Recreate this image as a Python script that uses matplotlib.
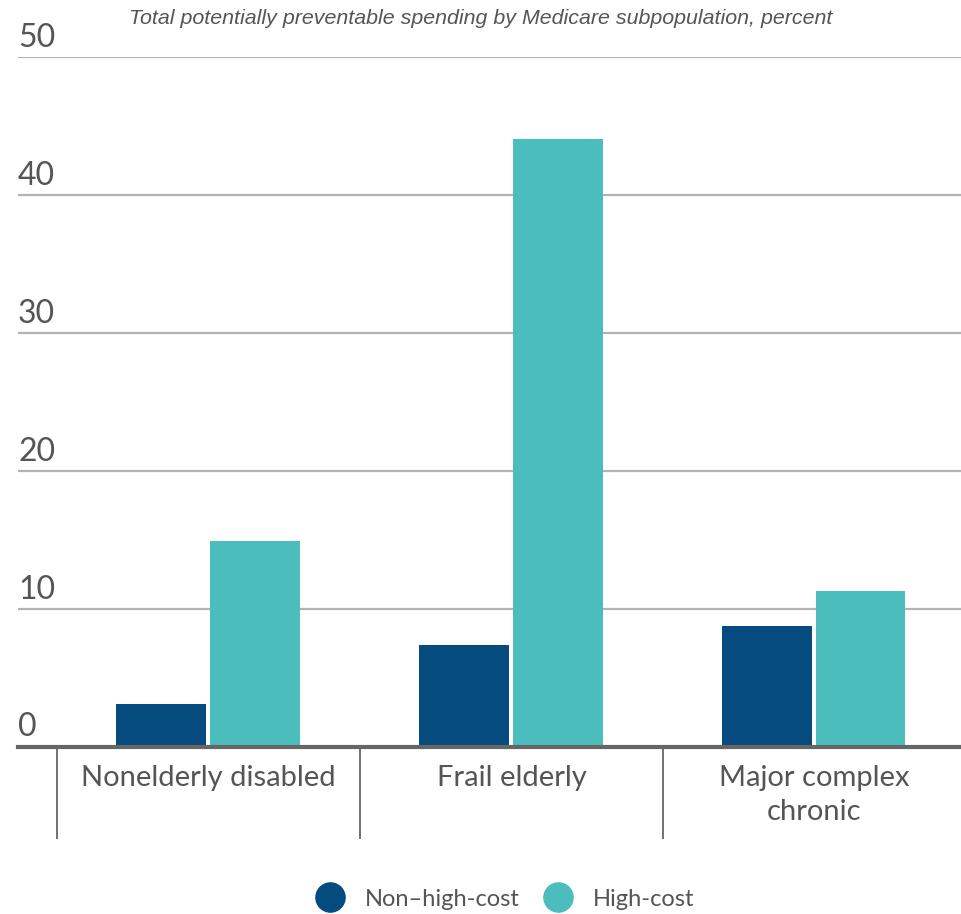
import matplotlib
matplotlib.use("Agg")
from matplotlib import pyplot as plt
from matplotlib.lines import Line2D
import matplotlib.transforms as mtransforms
import numpy as np

categories = ["Nonelderly disabled", "Frail elderly", "Major complex\nchronic"]
series_names = ["Non\u2013high-cost", "High-cost"]
non_high_cost = [3.1, 7.35, 8.7]
high_cost = [14.9, 44.0, 11.3]
y_ticks = [0, 10, 20, 30, 40, 50]
title = "Total potentially preventable spending by Medicare subpopulation, percent"

dark = "#054b7d"
teal = "#4bbdbc"
text_col = "#555555"

fig = plt.figure(figsize=(9.62, 9.14), dpi=100)
ax = fig.add_axes([18 / 962, 1 - 746.5 / 914, 944 / 962, (746.5 - 56.7) / 914])

x = np.arange(len(categories))
w = 0.297
ax.bar(x - 0.157, non_high_cost, width=w, color=dark, zorder=3)
ax.bar(x + 0.152, high_cost, width=w, color=teal, zorder=3)

ax.set_ylim(0, 50)
ax.set_xlim(-0.629, 2.487)

# gridlines and y labels sitting above the lines
for t in y_ticks[1:]:
    ax.axhline(t, color="#b3b3b3", lw=1.6, zorder=1)
trans = mtransforms.blended_transform_factory(ax.transAxes, ax.transData)
offset = mtransforms.ScaledTranslation(0, 10 / 100, fig.dpi_scale_trans)
for t in y_ticks:
    ax.text(0, t, str(t), transform=trans + offset, ha="left", va="baseline",
            fontsize=23, color=text_col, family="Lato")
ax.axhline(0, color="#666666", lw=3, zorder=4, clip_on=False)

ax.set_yticks([])
for s in ax.spines.values():
    s.set_visible(False)

ax.set_xticks(x)
ax.set_xticklabels(categories, fontsize=21, color=text_col, family="Lato",
                   linespacing=1.4)
ax.set_xticks([-0.5, 0.5, 1.5], minor=True)
ax.tick_params(axis="x", which="major", length=0, pad=13)
ax.tick_params(axis="x", which="minor", length=66, width=1.3, color="#666666")

fig.text(0.5, 1 - 18 / 914, title, ha="center", va="center", fontsize=15.4,
         style="italic", color=text_col, family="Liberation Sans")

handles = [Line2D([], [], marker="o", ls="", markersize=21, color=c)
           for c in (dark, teal)]
fig.legend(handles, series_names, loc="center", bbox_to_anchor=(0.52, 1 - 899 / 914),
           ncol=2, frameon=False, prop={"family": "Lato", "size": 17},
           labelcolor=text_col, handletextpad=0.5, columnspacing=0.6)

fig.savefig("out.png", dpi=100)
